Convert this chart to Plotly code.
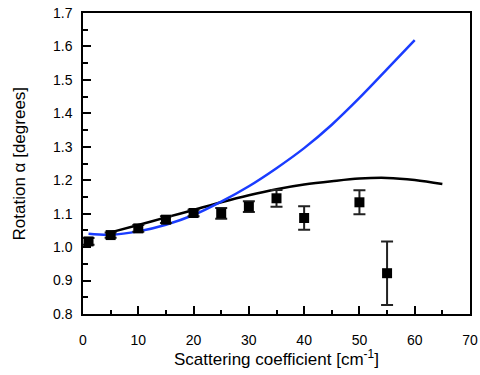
import plotly.graph_objects as go

# measured data
x_meas = [1, 5, 10, 15, 20, 25, 30, 35, 40, 50, 55]
y_meas = [1.017, 1.036, 1.056, 1.082, 1.102, 1.101, 1.121, 1.146, 1.087, 1.134, 0.922]
err_meas = [0.010, 0.008, 0.010, 0.010, 0.010, 0.016, 0.016, 0.025, 0.035, 0.036, 0.095]

# black model curve
x_black = [5, 10, 15, 20, 25, 30, 35, 40, 45, 50, 55, 60, 65]
y_black = [1.044, 1.066, 1.089, 1.111, 1.134, 1.155, 1.173, 1.187, 1.197, 1.205, 1.207, 1.201, 1.189]

# blue model curve
x_blue = [1, 5, 10, 15, 20, 25, 30, 35, 40, 45, 50, 55, 60]
y_blue = [1.040, 1.037, 1.047, 1.067, 1.096, 1.136, 1.182, 1.236, 1.296, 1.366, 1.446, 1.532, 1.619]

x_ticks = [0, 10, 20, 30, 40, 50, 60, 70]
y_ticks = [0.8, 0.9, 1.0, 1.1, 1.2, 1.3, 1.4, 1.5, 1.6, 1.7]
y_labels = ["0.8", "0.9", "1.0", "1.1", "1.2", "1.3", "1.4", "1.5", "1.6", "1.7"]

fig = go.Figure()
fig.add_trace(go.Scatter(x=x_black, y=y_black, mode="lines",
                         line=dict(color="black", width=2.5, shape="spline"), showlegend=False))
fig.add_trace(go.Scatter(x=x_blue, y=y_blue, mode="lines",
                         line=dict(color="#1a3cff", width=2.5, shape="spline"), showlegend=False))
fig.add_trace(go.Scatter(
    x=x_meas, y=y_meas, mode="markers",
    marker=dict(symbol="square", size=10, color="black"),
    error_y=dict(type="data", array=err_meas, visible=True, color="#222222", thickness=2, width=6),
    showlegend=False))

font = "Liberation Sans, Arial, Helvetica, sans-serif"
fig.update_layout(
    width=480, height=375,
    margin=dict(l=83, r=10, t=13, b=61),
    paper_bgcolor="white", plot_bgcolor="white",
    font=dict(family=font, size=14, color="black"),
    xaxis=dict(range=[0, 70], tickvals=x_ticks, automargin=False,
               ticks="inside", ticklen=8, tickwidth=1.5, tickcolor="black",
               minor=dict(dtick=5, ticks="inside", ticklen=4, tickcolor="black"),
               showline=True, linecolor="black", linewidth=1.5, mirror=True,
               showgrid=False, zeroline=False, tickfont=dict(size=14),
               ticklabelstandoff=12, ticklabeloverflow="allow"),
    yaxis=dict(range=[0.8, 1.7], tickvals=y_ticks, ticktext=y_labels, automargin=False,
               ticks="inside", ticklen=8, tickwidth=1.5, tickcolor="black",
               minor=dict(dtick=0.05, ticks="inside", ticklen=5, tickcolor="black"),
               showline=True, linecolor="black", linewidth=1.5, mirror=True,
               showgrid=False, zeroline=False, tickfont=dict(size=14),
               ticklabelstandoff=6, ticklabeloverflow="allow"),
    annotations=[
        dict(text="Scattering coefficient [cm<sup>-1</sup>]", xref="paper", yref="paper",
             x=0.5, y=-0.145, xanchor="center", yanchor="middle", showarrow=False,
             font=dict(size=17)),
        dict(text="Rotation α [degrees]", xref="paper", yref="paper",
             x=-0.163, y=0.5, xanchor="center", yanchor="middle", showarrow=False,
             textangle=-90, font=dict(size=17)),
    ],
)
fig.write_html("out.html", config={"displayModeBar": False},
               post_script="document.body.style.margin='0';document.body.style.overflow='hidden';")
